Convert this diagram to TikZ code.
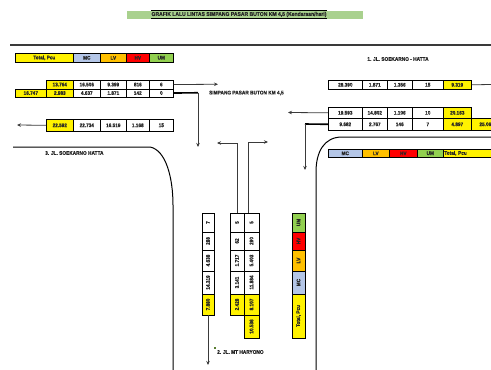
\documentclass[tikz,border=0pt]{standalone}
\usepackage{fontspec}
\setmainfont{Liberation Sans}
\newfontfamily\numfont{Liberation Sans}[FakeStretch=0.9, FakeBold=0.6]
\usetikzlibrary{arrows.meta}
\definecolor{mcblue}{HTML}{B4C6E7}
\definecolor{lvorange}{HTML}{FFC000}
\definecolor{hvred}{HTML}{FF0000}
\definecolor{umgreen}{HTML}{92D050}
\definecolor{titlegreen}{HTML}{A9D18E}
\definecolor{linegray}{HTML}{3A3A3A}
\tikzset{
  cell/.style={draw=black, line width=0.6pt, inner sep=0pt, anchor=north west,
    text=black!85, font=\numfont\fontsize{5.2}{6}\selectfont\bfseries},
  vcell/.style={cell, anchor=center, rotate=90},
  lbl/.style={inner sep=0pt, text=black!85, font=\numfont\fontsize{5.3}{6}\selectfont\bfseries},
  conn/.style={draw=linegray, line width=0.8pt, -{Stealth[length=4pt, width=3.5pt]}},
  road/.style={draw=black, line width=1pt}
}
\begin{document}
\begin{tikzpicture}[x=1pt, y=-1pt]
    \clip (0,0) rectangle (491,370);
    % Title bar
    \fill[titlegreen] (127,10.5) rectangle (363,18.5);
    \node[lbl, minimum height=8pt, font=\numfont\fontsize{5.6}{6}\selectfont\bfseries] (title) at (239,14.5) {GRAFIK LALU LINTAS SIMPANG PASAR BUTON KM 4,5 (Kendaraan/hari)};
    \draw[line width=0.8pt] (title.north west) -- (title.north east);
    \draw[line width=0.8pt] (title.south west) -- (title.south east);
    \draw[linegray, line width=1.3pt] (10,45) -- (491,45);
    % Legend (top left)
    \foreach \xa/\xb/\c/\t [count=\i] in {15/73/yellow/{Total, Pcu}, 73/100/mcblue/MC, 100/126/lvorange/LV, 126/149/hvred/HV, 149/173/umgreen/UM}
      \node[cell, fill=\c, minimum width={(\xb-\xa)*1pt}, minimum height=9pt] (lg\i) at (\xa,53) {\t};
    % Counts on the left arm
    \foreach \xa/\xb/\c/\t [count=\i] in {46/73/yellow/13.764, 73/100/white/16.506, 100/126/white/9.399, 126/149/white/816, 149/173/white/6}
      \node[cell, fill=\c, minimum width={(\xb-\xa)*1pt}, minimum height=8.5pt] (la\i) at (\xa,80) {\t};
    \foreach \xa/\xb/\c/\t [count=\i] in {15/46/yellow/16.747, 46/73/yellow/2.983, 73/100/white/4.637, 100/126/white/1.871, 126/149/white/142, 149/173/white/0}
      \node[cell, fill=\c, minimum width={(\xb-\xa)*1pt}, minimum height=8.5pt] (lb\i) at (\xa,88.5) {\t};
    \foreach \xa/\xb/\c/\t [count=\i] in {46/73/yellow/22.592, 73/100/white/22.734, 100/126/white/16.519, 126/149/white/1.168, 149/173/white/15}
      \node[cell, fill=\c, minimum width={(\xb-\xa)*1pt}, minimum height=12pt] (lc\i) at (\xa,119) {\t};
    % Counts on the right arm
    \foreach \xa/\xb/\c/\t [count=\i] in {328/362/white/28.390, 362/387/white/1.871, 387/412/white/1.356, 412/443/white/15, 443/471/yellow/9.319}
      \node[cell, fill=\c, minimum width={(\xb-\xa)*1pt}, minimum height=9pt] (ra\i) at (\xa,80) {\t};
    \foreach \xa/\xb/\c/\t [count=\i] in {328/362/white/19.593, 362/387/white/14.802, 387/412/white/1.106, 412/443/white/10, 443/471/yellow/20.163}
      \node[cell, fill=\c, minimum width={(\xb-\xa)*1pt}, minimum height=11pt] (rb\i) at (\xa,107) {\t};
    \foreach \xa/\xb/\c/\t [count=\i] in {328/362/white/9.682, 362/387/white/2.767, 387/412/white/146, 412/443/white/7, 443/471/yellow/4.897, 471/499/yellow/25.06}
      \node[cell, fill=\c, minimum width={(\xb-\xa)*1pt}, minimum height=12pt] (rc\i) at (\xa,118) {\t};
    % Legend (right)
    \foreach \xa/\xb/\c/\t [count=\i] in {328/362/mcblue/MC, 362/389/lvorange/LV, 389/417/hvred/HV, 417/443/umgreen/UM}
      \node[cell, fill=\c, minimum width={(\xb-\xa)*1pt}, minimum height=8pt] (lr\i) at (\xa,149) {\t};
    \node[cell, fill=yellow, minimum width=56pt, minimum height=8pt, text width=54pt, inner xsep=1pt, align=left] (lr5) at (443,149) {Total, Pcu};
    % Counts on the bottom arm
    \foreach \ya/\yb/\c/\t [count=\i] in {213/232/white/7, 232/250/white/288, 250/271/white/4.638, 271/294/white/14.319, 294/315/yellow/7.880}
      \node[vcell, fill=\c, minimum width={(\yb-\ya)*1pt}, minimum height=12pt] (ma\i) at (208,{(\ya+\yb)/2}) {\t};
    \foreach \ya/\yb/\c/\t [count=\i] in {213/232/white/5, 232/250/white/62, 250/271/white/1.717, 271/294/white/3.141, 294/315/yellow/2.428}
      \node[vcell, fill=\c, minimum width={(\yb-\ya)*1pt}, minimum height=14pt] (mb\i) at (237,{(\ya+\yb)/2}) {\t};
    \foreach \ya/\yb/\c/\t [count=\i] in {213/232/white/5, 232/250/white/290, 250/271/white/5.403, 271/294/white/11.884, 294/315/yellow/8.107, 315/338/yellow/10.536}
      \node[vcell, fill=\c, minimum width={(\yb-\ya)*1pt}, minimum height=15pt] (mc\i) at (251.5,{(\ya+\yb)/2}) {\t};
    \foreach \ya/\yb/\c/\t [count=\i] in {213/232/umgreen/UM, 232/250/hvred/HV, 250/271/lvorange/LV, 271/294/mcblue/MC, 294/338/yellow/{Total, Pcu}}
      \node[vcell, fill=\c, minimum width={(\yb-\ya)*1pt}, minimum height=13pt] (mg\i) at (298.5,{(\ya+\yb)/2}) {\t};
    % Road edges
    \draw[road] (13,147) -- (150,147) .. controls (166,150) and (173,178) .. (173,205) -- (173,370);
    \draw[road] (491,137) -- (342,137) .. controls (324,137) and (316,152) .. (316,172) -- (316,370);
    % Arm names
    \node[lbl, anchor=west] (simpang) at (209,93) {SIMPANG PASAR BUTON KM 4,5};
    \node[lbl] (jlA) at (398,59) {1. JL. SOEKARNO - HATTA};
    \node[lbl, anchor=west] (jlC) at (45,153) {3. JL. SOEKARNO HATTA};
    \node[lbl, anchor=west] (jlB) at (217,352) {2. JL. MT HARYONO};
    \fill[umgreen!60!black] (213.5,346.5) rectangle (215.5,348.5);
    % Turning movements
    \coordinate (toSimpang) at (218,84.25);
    \coordinate (kneeL) at (198,92.75);
    \coordinate (downL) at (198,147);
    \coordinate (outW) at (17,125);
    \coordinate (edgeE) at (491,84.5);
    \coordinate (outN) at (288,112.5);
    \coordinate (kneeR) at (305,124);
    \coordinate (downR) at (305,170);
    \coordinate (turnW) at (217,143);
    \coordinate (turnE) at (268,142);
    \coordinate (outS) at (208,365);
    \draw[conn] (la5.east) -- (toSimpang);
    \draw[line width=1.6pt] (lb6.east) -- (kneeL);
    \draw[conn] (kneeL) -- (downL);
    \draw[conn] (lc1.west) -- (outW);
    \draw[linegray, line width=0.8pt] (ra5.east) -- (edgeE);
    \draw[conn] (rb1.west) -- (outN);
    \draw[line width=1.6pt] (rc1.west) -- (kneeR);
    \draw[conn] (kneeR) -- (downR);
    \draw[conn] (mb1.east) |- (turnW);
    \draw[conn] ([xshift=-3.5pt]mc1.east) |- (turnE);
    \draw[conn] (ma5.west) -- (outS);
\end{tikzpicture}
\end{document}
